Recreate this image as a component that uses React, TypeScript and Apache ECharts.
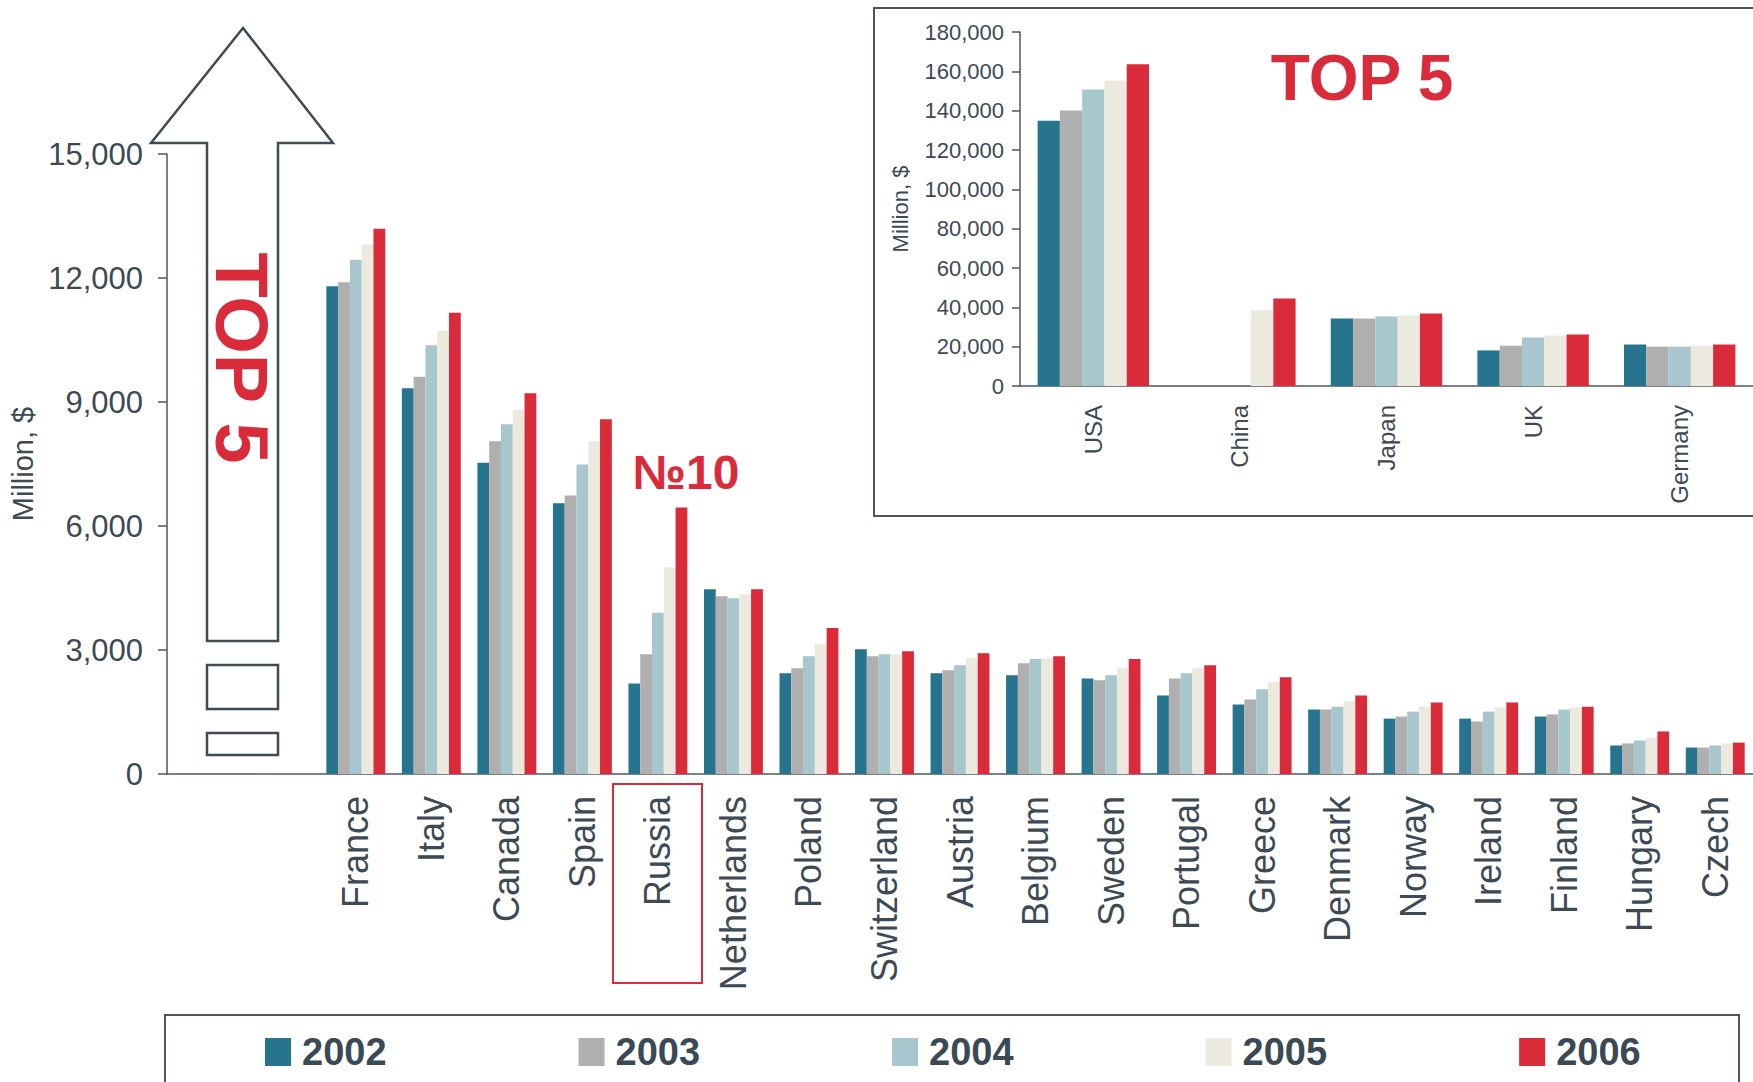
import React, { useEffect, useRef } from "react";
import * as echarts from "echarts";

const years = ["2002", "2003", "2004", "2005", "2006"];
const colors = ["#27748f", "#afafaf", "#a8c6ce", "#ece9de", "#d92b3a"];

const countries = [" ", "  ", "France", "Italy", "Canada", "Spain", "Russia", "Netherlands", "Poland", "Switzerland", "Austria", "Belgium", "Sweden", "Portugal", "Greece", "Denmark", "Norway", "Ireland", "Finland", "Hungary", "Czech"];
const v2002 = [null, null, 11800, 9330, 7530, 6550, 2190, 4470, 2440, 3020, 2440, 2390, 2310, 1900, 1680, 1560, 1340, 1340, 1390, 690, 640];
const v2003 = [null, null, 11900, 9610, 8050, 6740, 2900, 4300, 2560, 2850, 2510, 2680, 2270, 2310, 1800, 1560, 1390, 1270, 1440, 740, 640];
const v2004 = [null, null, 12440, 10370, 8460, 7490, 3900, 4250, 2850, 2900, 2630, 2780, 2390, 2440, 2050, 1630, 1510, 1510, 1560, 810, 690];
const v2005 = [null, null, 12810, 10720, 8810, 8050, 5000, 4350, 3140, 2900, 2800, 2800, 2560, 2560, 2220, 1760, 1630, 1610, 1610, 880, 740];
const v2006 = [null, null, 13190, 11160, 9210, 8580, 6450, 4470, 3530, 2970, 2920, 2850, 2780, 2630, 2340, 1900, 1730, 1730, 1630, 1030, 760];

const top5 = ["USA", "China", "Japan", "UK", "Germany"];
const t2002 = [134900, null, 34300, 18100, 21100];
const t2003 = [140100, null, 34300, 20500, 20000];
const t2004 = [150800, null, 35400, 24700, 20000];
const t2005 = [155300, 38500, 35900, 25700, 20500];
const t2006 = [163600, 44500, 36900, 26200, 21100];

const mainTicks = { min: 0, max: 15000, interval: 3000 };
const insetTicks = { min: 0, max: 180000, interval: 20000 };

const FONT = "Liberation Sans, Arial, sans-serif";
const TEXT = "#3d4a54";
const AXIS = "#4b5861";
const RED = "#d92b3a";

export default function App() {
  const ref = useRef<HTMLDivElement>(null);
  useEffect(() => {
    const chart = echarts.init(ref.current!, undefined, { renderer: "svg" });
    const mainVals = [v2002, v2003, v2004, v2005, v2006];
    const insetVals = [t2002, t2003, t2004, t2005, t2006];
    const fmt = (v: number) => v.toLocaleString("en-US");
    const series: any[] = [];
    years.forEach((y, i) => {
      series.push({
        type: "bar", name: y, data: mainVals[i], xAxisIndex: 0, yAxisIndex: 0,
        itemStyle: { color: colors[i] }, barGap: "0%", barCategoryGap: "22%",
      });
    });
    years.forEach((y, i) => {
      series.push({
        type: "bar", name: y, data: insetVals[i], xAxisIndex: 1, yAxisIndex: 1,
        itemStyle: { color: colors[i] }, barGap: "0%", barCategoryGap: "24%",
      });
    });
    chart.setOption({
      animation: false,
      backgroundColor: "#ffffff",
      textStyle: { fontFamily: FONT },
      grid: [
        { left: 167, top: 154, width: 1588, height: 620 },
        { left: 1020, top: 32, width: 735, height: 354 },
      ],
      legend: {
        data: years,
        left: 265, top: 1033, padding: 0,
        itemWidth: 26, itemHeight: 28, itemGap: 192,
        icon: "rect",
        textStyle: { fontSize: 38, fontWeight: "bold", color: "#3a4a54", fontFamily: FONT, padding: [0, 0, 0, 6] },
      },
      xAxis: [
        {
          type: "category", data: countries, gridIndex: 0,
          axisLine: { lineStyle: { color: AXIS, width: 1.5 } },
          axisTick: { length: 11, interval: 0, lineStyle: { color: AXIS, width: 1.5 } },
          axisLabel: { rotate: 90, fontSize: 36, color: TEXT, margin: 22, interval: 0, fontFamily: FONT },
        },
        {
          type: "category", data: top5, gridIndex: 1,
          axisLine: { lineStyle: { color: AXIS, width: 1.5 } },
          axisTick: { length: 9, lineStyle: { color: AXIS, width: 1.5 } },
          axisLabel: { rotate: 90, fontSize: 24, color: TEXT, margin: 19, interval: 0, fontFamily: FONT },
        },
      ],
      yAxis: [
        {
          type: "value", gridIndex: 0, ...mainTicks,
          name: "Million, $", nameLocation: "middle", nameGap: 127,
          nameTextStyle: { fontSize: 29, color: TEXT, fontFamily: FONT },
          axisLine: { show: true, lineStyle: { color: AXIS, width: 1.5 } },
          axisTick: { show: true, length: 9, lineStyle: { color: AXIS, width: 1.5 } },
          splitLine: { show: false },
          axisLabel: { fontSize: 31, color: TEXT, margin: 24, formatter: fmt, fontFamily: FONT },
        },
        {
          type: "value", gridIndex: 1, ...insetTicks,
          name: "Million, $", nameLocation: "middle", nameGap: 109,
          nameTextStyle: { fontSize: 22, color: TEXT, fontFamily: FONT },
          axisLine: { show: true, lineStyle: { color: AXIS, width: 1.5 } },
          axisTick: { show: true, length: 8, lineStyle: { color: AXIS, width: 1.5 } },
          splitLine: { show: false },
          axisLabel: { fontSize: 22, color: TEXT, margin: 16, formatter: fmt, fontFamily: FONT },
        },
      ],
      graphic: [
        {
          type: "polygon",
          shape: { points: [[243, 28], [333, 143], [278, 143], [278, 641], [207, 641], [207, 143], [151, 143]] },
          style: { fill: "#ffffff", stroke: "#3e4b55", lineWidth: 2.5 },
          z: 10,
        },
        { type: "rect", shape: { x: 207, y: 665, width: 71, height: 44 }, style: { fill: "none", stroke: "#3e4b55", lineWidth: 2.5 }, z: 10 },
        { type: "rect", shape: { x: 207, y: 733, width: 71, height: 22 }, style: { fill: "none", stroke: "#3e4b55", lineWidth: 2.5 }, z: 10 },
        {
          type: "text", x: 241, y: 358, rotation: -Math.PI / 2, z: 11,
          style: { text: "TOP 5", fontSize: 74, fontWeight: "bold", fill: RED, align: "center", verticalAlign: "middle", fontFamily: FONT },
        },
        {
          type: "text", x: 686, y: 472, z: 11,
          style: { text: "№10", fontSize: 48, fontWeight: "bold", fill: RED, align: "center", verticalAlign: "middle", fontFamily: FONT },
        },
        { type: "rect", shape: { x: 613, y: 784, width: 89, height: 199 }, style: { fill: "none", stroke: RED, lineWidth: 2 }, z: 10 },
        { type: "rect", shape: { x: 874, y: 8, width: 900, height: 508 }, style: { fill: "none", stroke: "#4a5760", lineWidth: 2 }, z: 10 },
        {
          type: "text", x: 1362, y: 78, z: 11,
          style: { text: "TOP 5", fontSize: 64, fontWeight: "bold", fill: RED, align: "center", verticalAlign: "middle", fontFamily: FONT },
        },
        { type: "rect", shape: { x: 165, y: 1015, width: 1574, height: 100 }, style: { fill: "none", stroke: "#4a5760", lineWidth: 2 }, z: 10 },
      ],
      series,
    });
    return () => chart.dispose();
  }, []);
  return (
    <div
      ref={ref}
      style={{ position: "fixed", left: 0, top: 0, width: 1753, height: 1082, background: "#fff" }}
    />
  );
}
